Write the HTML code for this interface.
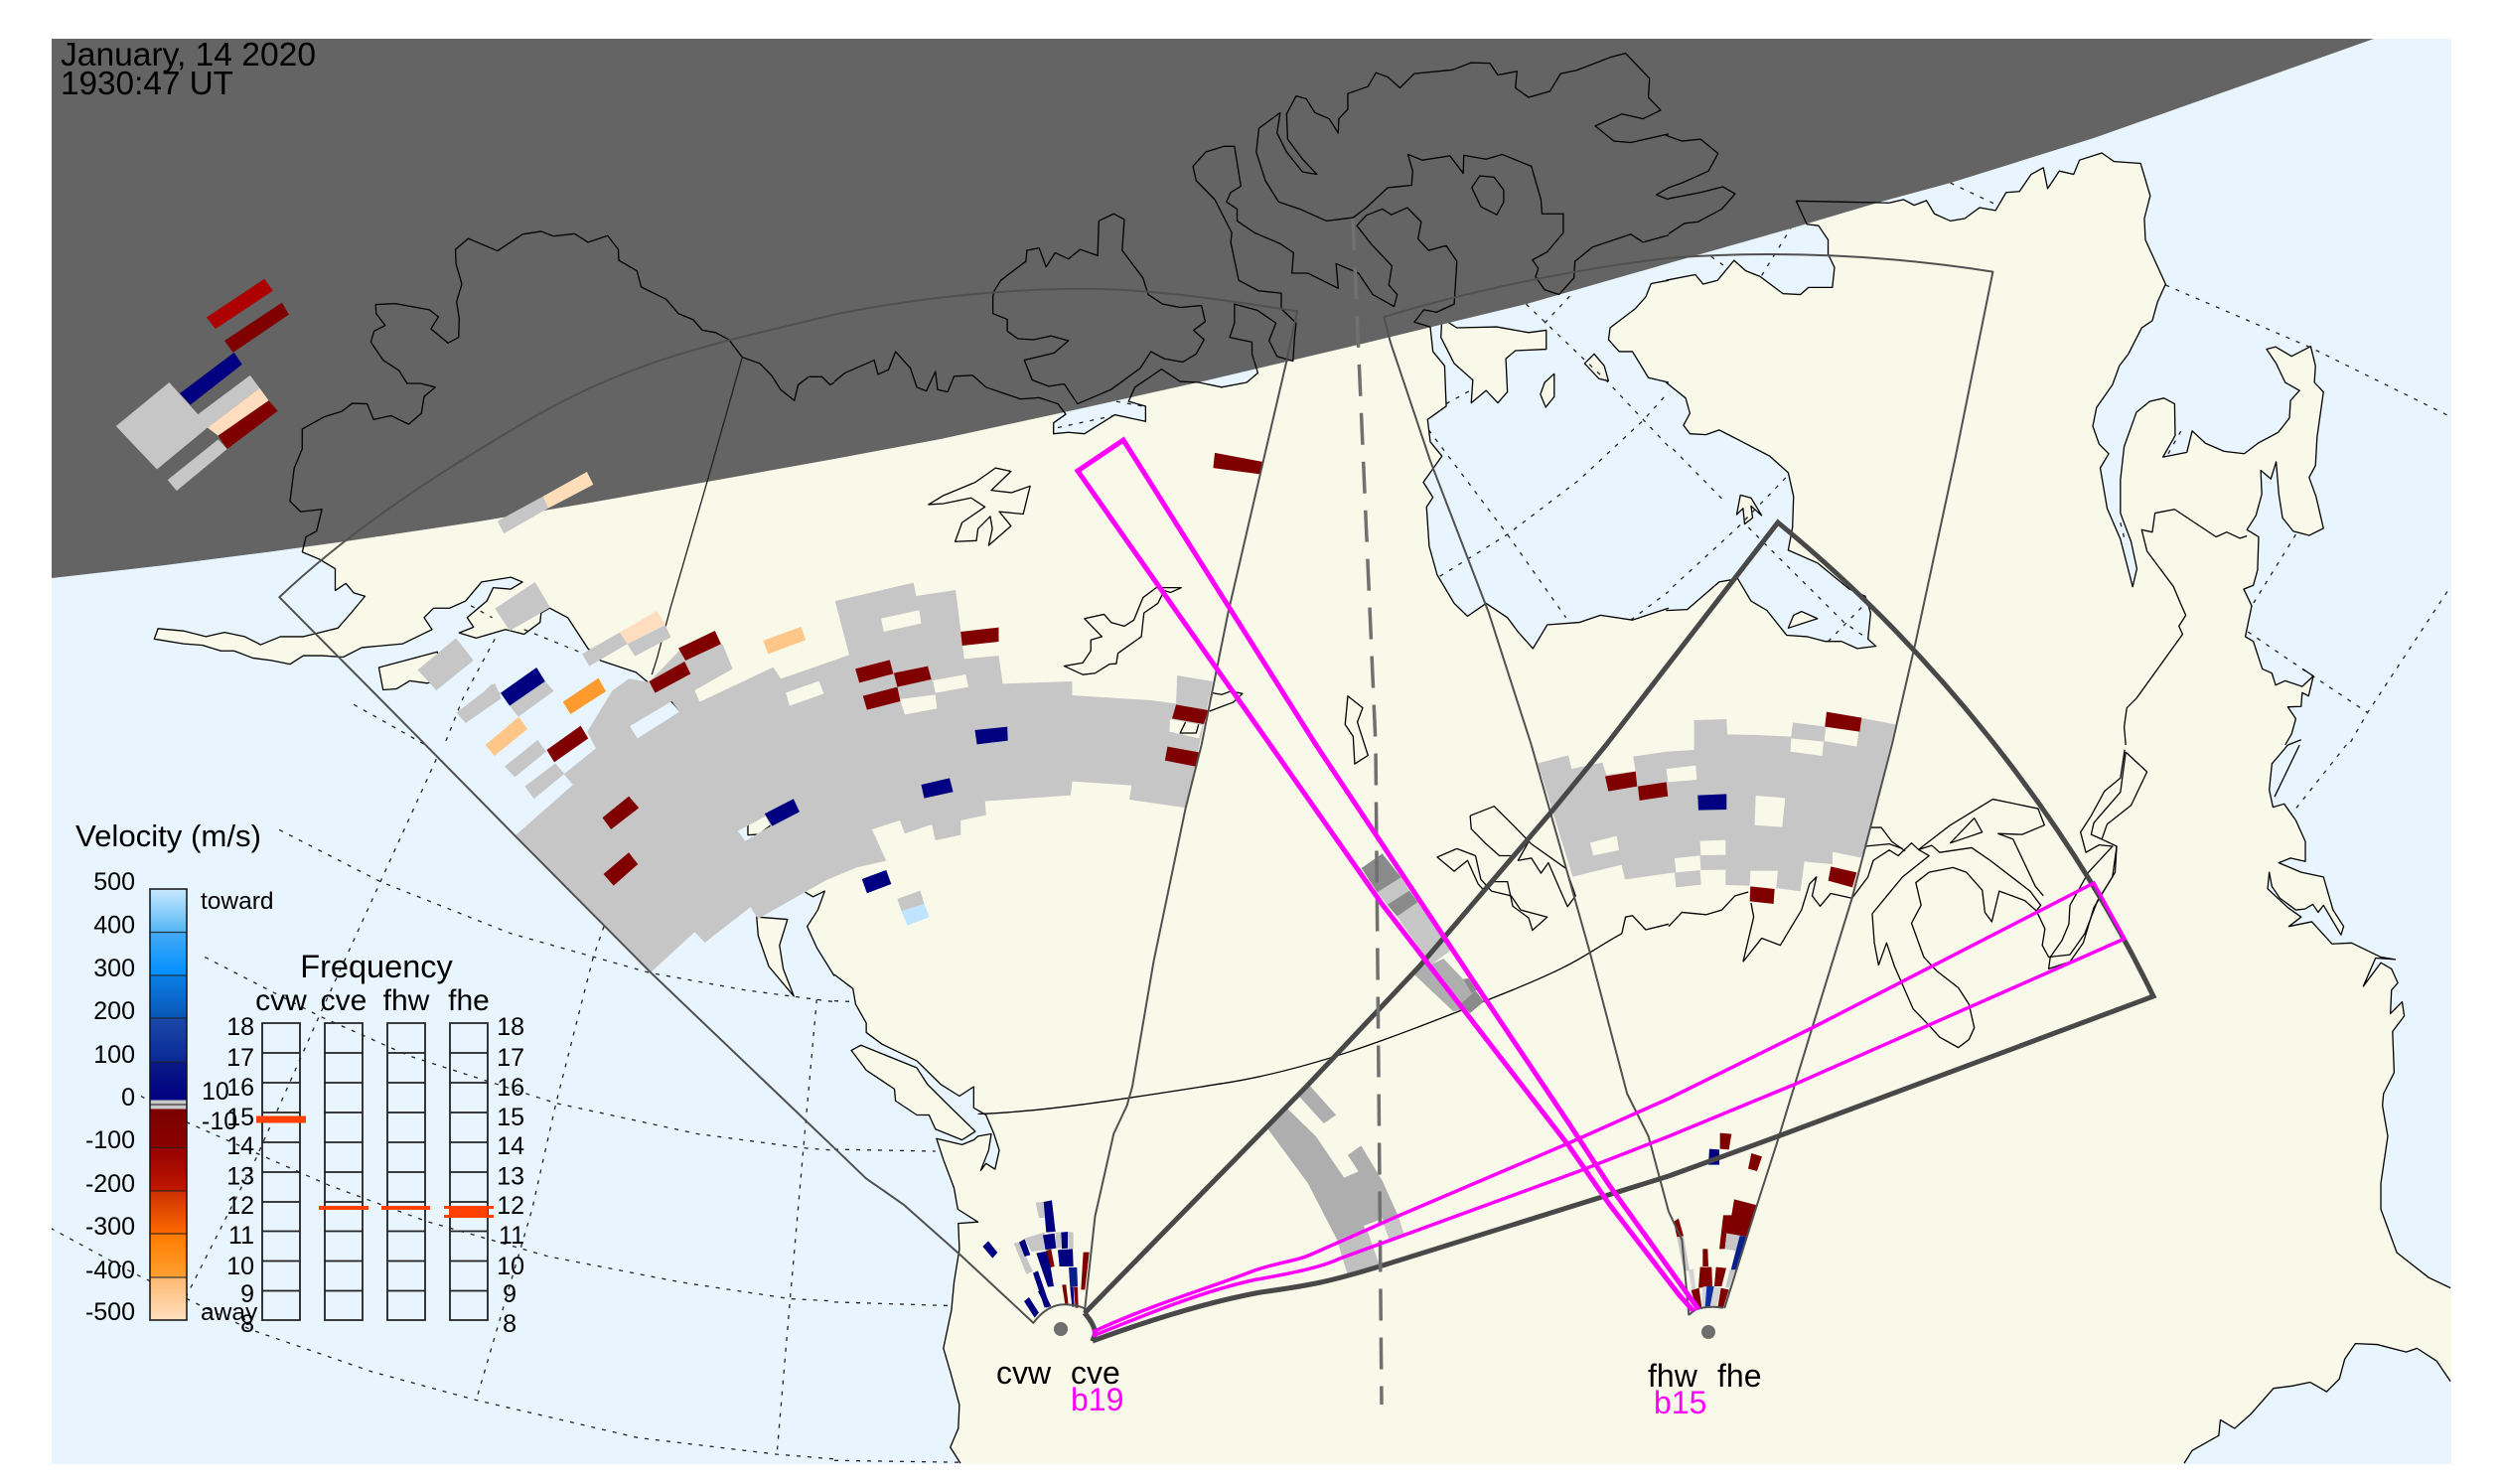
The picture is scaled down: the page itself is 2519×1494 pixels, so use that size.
<!DOCTYPE html>
<html><head><meta charset="utf-8"><title>SuperDARN velocity map</title>
<style>
html,body{margin:0;padding:0;background:#fff}
svg{display:block}
svg *{vector-effect:non-scaling-stroke}
.o{fill:#e8f5ff;stroke:none}
.la{fill:#f9f9ea;stroke:#000;stroke-width:1.3;stroke-linejoin:round}
.c{fill:none;stroke:#000;stroke-width:1.3;stroke-linejoin:round}
.gr{fill:none;stroke:#222;stroke-width:1.3;stroke-dasharray:4 7}
.g{fill:#c6c6c6}.r{fill:#800000}.n{fill:#000080}.m{fill:#aeaeae}.d{fill:#8a8a8a}
.th{fill:none;stroke:#505050;stroke-width:2;stroke-linejoin:round}
.tk{fill:none;stroke:#484848;stroke-width:5;stroke-linejoin:miter}
.mg{fill:none;stroke:#ff00ff;stroke-width:3.5;stroke-linejoin:miter}
text{font-family:"Liberation Sans",sans-serif;fill:#000}
.f25{font-size:25px}
.e{text-anchor:end}
.mid{text-anchor:middle}
</style></head><body>
<svg xmlns="http://www.w3.org/2000/svg" width="2519" height="1494" viewBox="0 0 2519 1494">
<defs>
<linearGradient id="cb" gradientUnits="userSpaceOnUse" x1="0" y1="895" x2="0" y2="1329">
<stop offset="0" stop-color="#c8e9ff"/><stop offset=".099" stop-color="#55b5f5"/><stop offset=".1" stop-color="#45aaf5"/><stop offset=".199" stop-color="#0090ff"/><stop offset=".2" stop-color="#0a80e5"/><stop offset=".3" stop-color="#0a55b5"/><stop offset=".301" stop-color="#1a48a8"/><stop offset=".4" stop-color="#0a2a95"/><stop offset=".401" stop-color="#0a1a85"/><stop offset=".49" stop-color="#000080"/><stop offset=".49" stop-color="#c8c8c8"/><stop offset=".51" stop-color="#c8c8c8"/><stop offset=".51" stop-color="#7a0000"/><stop offset=".6" stop-color="#8a0000"/><stop offset=".601" stop-color="#950000"/><stop offset=".7" stop-color="#c01800"/><stop offset=".701" stop-color="#cc3000"/><stop offset=".8" stop-color="#ff6a00"/><stop offset=".801" stop-color="#ff7a00"/><stop offset=".899" stop-color="#ffa030"/><stop offset=".9" stop-color="#ffb870"/><stop offset="1" stop-color="#ffe0bf"/>
</linearGradient>
</defs>
<rect width="2519" height="1494" fill="#fff"/>
<rect x="52" y="39" width="2416" height="1442" fill="#f9f9ea"/>

<!-- oceans -->
<g transform="scale(.5357 .4783)">
<polygon class="o" points="90,1100 568,1100 568,1162 600,1177 630,1197 630,1243 650,1228 665,1248 686,1255 660,1290 635,1322 570,1340 527,1340 490,1357 460,1340 422,1331 387,1340 345,1328 297,1323 290,1345 345,1355 380,1358 415,1370 440,1370 475,1385 510,1390 545,1398 570,1380 605,1380 645,1383 680,1363 757,1355 812,1325 797,1300 815,1280 845,1280 875,1265 905,1225 960,1215 982,1225 960,1240 927,1237 915,1265 878,1300 890,1320 863,1332 895,1343 950,1325 985,1335 1015,1310 1017,1290 1033,1280 1067,1300 1105,1365 1128,1390 1195,1415 1265,1480 1280,1500 1310,1490 1310,1580 90,1580"/>
</g>
<polygon class="o" points="48,740 702,740 796,880 809,897 817,903 829,899 813,933 827,958 840,981 859,995 861,1011 872,1030 872,1039 888,1051 923,1068 947,1092 966,1103 980,1094 980,1115 993,1122 1001,1141 1006,1158 1002,1177 993,1171 987,1178 995,1158 998,1141 985,1144 980,1148 969,1152 943,1146 950,1168 961,1196 964,1217 985,1230 965,1232 966,1258 961,1291 958,1319 950,1357 957,1381 966,1414 965,1438 957,1457 967,1473 970,1490 48,1490"/>
<g transform="translate(840 0) scale(.5357 .4783)">
<polygon class="o" points="1120,688 1125,740 1147,770 1150,855 1115,883 1120,930 1142,960 1107,1015 1125,1047 1113,1067 1118,1150 1133,1210 1165,1270 1190,1297 1225,1270 1265,1300 1285,1330 1313,1365 1340,1315 1400,1310 1440,1295 1500,1305 1575,1280 1575,810 1530,795 1500,740 1475,740 1455,715 1458,690 1505,650 1525,625 1535,597 1575,590 1575,500 1120,500"/>
<polygon class="o" points="435,850 412,890 412,913 440,910 470,913 527,873 585,887 585,855 553,845 565,815 500,820"/>
<polygon class="o" points="615,777 650,803 685,805 728,815 775,805 796,785 790,740 700,770"/>
<polygon class="la" points="1142,670 1170,690 1245,688 1305,700 1338,695 1338,735 1280,738 1262,755 1265,825 1247,848 1225,822 1197,848 1200,800 1165,765 1140,710"/>
<polygon class="la" points="1410,765 1428,745 1447,770 1455,802 1437,797"/>
<polygon class="la" points="1327,830 1335,805 1353,787 1353,835 1337,857"/>
</g>
<g transform="translate(1680 0) scale(.5351 .4783)">
<polygon class="o" points="-5,590 50,578 65,598 92,590 123,548 145,570 172,582 215,618 248,620 263,605 308,605 312,563 300,535 300,505 282,475 260,472 240,423 240,380 -5,380"/>
<polygon class="o" points="-5,805 32,838 40,870 28,895 40,913 70,915 95,905 130,925 190,960 225,995 235,1045 233,1110 225,1158 280,1185 340,1240 370,1255 380,1290 375,1345 390,1360 355,1365 325,1350 295,1350 260,1340 222,1337 185,1285 155,1265 130,1218 95,1225 35,1283 -5,1285"/>
<polygon class="o" points="240,423 415,427 442,420 462,432 485,422 500,450 530,465 557,460 585,437 615,443 635,405 660,403 682,367 705,353 713,397 735,360 762,367 773,337 815,322 838,340 888,344 906,412 895,460 897,505 935,598 920,635 910,675 890,690 865,745 848,770 835,810 805,858 798,897 810,935 828,955 812,985 825,1070 850,1135 873,1235 881,1197 870,1140 850,1080 850,1010 857,940 880,868 905,845 932,838 952,850 953,917 930,962 975,952 985,907 1010,933 1045,950 1083,955 1110,932 1147,910 1168,880 1170,843 1187,822 1160,805 1143,765 1125,735 1142,730 1172,750 1208,729 1217,770 1215,805 1232,825 1220,920 1217,980 1205,1005 1218,1045 1232,1112 1205,1127 1175,1118 1155,1090 1148,1040 1143,972 1133,1008 1114,990 1116,1040 1105,1085 1088,1115 1110,1130 1108,1200 1100,1232 1082,1240 1097,1275 1085,1340 1100,1350 1117,1408 1135,1417 1142,1442 1160,1433 1192,1445 1210,1422 1204,1465 1192,1458 1190,1487 1165,1488 1180,1513 1172,1545 1165,1580 1500,1580 1500,60 240,60"/>
<polygon class="la" points="225,1322 235,1295 250,1287 280,1302"/>
<polygon class="la" points="128,1083 135,1042 155,1048 175,1085 155,1065 158,1090 143,1103 140,1070"/>
</g>
<g transform="translate(1680 750) scale(.5351 .4745)">
<polygon class="o" points="1165,-5 1135,40 1130,95 1137,132 1158,125 1180,160 1198,205 1198,247 1170,240 1148,250 1190,270 1232,280 1250,350 1270,385 1265,403 1232,340 1222,355 1212,338 1197,348 1180,350 1150,325 1135,300 1130,270 1127,305 1165,345 1190,365 1167,385 1210,375 1248,422 1285,420 1340,450 1367,455 1330,452 1307,512 1340,462 1360,475 1372,505 1360,520 1358,570 1380,545 1384,575 1362,608 1365,695 1345,740 1343,765 1353,830 1340,930 1340,985 1370,1077 1430,1130 1500,1165 1500,-5"/>
<polygon class="o" points="970,1524 985,1497 1035,1465 1038,1432 1065,1450 1095,1420 1138,1365 1173,1360 1207,1352 1238,1372 1262,1345 1272,1303 1292,1270 1333,1272 1388,1288 1408,1280 1445,1307 1471,1350 1500,1370 1500,1570 960,1570"/>
</g>

<!-- islands -->
<g transform="scale(.5357 .4783)">
<polygon class="la" points="712,1405 822,1372 830,1430 803,1438 770,1433 745,1450 720,1452"/>
</g>
<g transform="translate(0 750) scale(.5357 .4745)">
<polygon class="la" points="1422,365 1480,370 1465,425 1472,475 1492,533 1445,470 1425,405"/>
</g>
<g transform="translate(840 750) scale(.5357 .4745)">
<polygon class="la" points="32,648 50,637 155,685 175,720 215,765 265,820 240,838 190,815 178,785 155,785 115,755 113,730 60,690"/>
</g>
<g transform="translate(480 580) scale(.5102 .3333)">
<polygon class="la" points="535,745 535,782 557,780 582,750 570,720"/>
</g>

<!-- grid -->
<g transform="translate(0 750) scale(.5357 .4745)">
<polyline class="gr" points="525,180 715,290 960,400 1220,483 1400,520 1568,545"/>
<polyline class="gr" points="385,450 600,575 770,660 1045,760 1310,825 1510,855 1568,860"/>
<polyline class="gr" points="350,800 620,935 800,1010 1030,1085 1280,1140 1485,1175 1568,1180"/>
<polyline class="gr" points="95,1025 250,1120 470,1240 700,1330 895,1390 1200,1470 1460,1505 1568,1515"/>
<polyline class="gr" points="820,30 715,290 600,575 480,880 350,1170"/>
<polyline class="gr" points="1135,385 1115,450 1045,760 1000,985 895,1390"/>
<polyline class="gr" points="1535,540 1510,855 1485,1175 1460,1505"/>
<polyline class="gr" points="265,745 350,800"/>
</g>
<g transform="scale(.5357 .4783)">
<polyline class="gr" points="665,1483 800,1568"/>
<polyline class="gr" points="930,1345 870,1470 835,1568"/>
<polyline class="gr" points="985,1325 1095,1375"/>
<polyline class="gr" points="885,1275 925,1300"/>
</g>
<g transform="translate(840 750) scale(.5357 .4745)">
<polyline class="gr" points="0,543 40,545"/>
<polyline class="gr" points="0,858 190,862"/>
<polyline class="gr" points="0,1182 225,1190"/>
<polyline class="gr" points="0,1518 235,1522"/>
</g>
<g transform="translate(840 0) scale(.5357 .4783)">
<polyline class="gr" points="1138,1213 1265,1125 1400,1010 1520,885 1568,825"/>
<polyline class="gr" points="1117,905 1265,1125 1375,1300"/>
<polyline class="gr" points="1300,640 1450,800 1568,940"/>
<polyline class="gr" points="1150,850 1195,822"/>
<polyline class="gr" points="1335,680 1385,620"/>
<polyline class="gr" points="1497,1305 1568,1245"/>
<polyline class="gr" points="420,900 525,875"/>
<polyline class="gr" points="530,845 580,855"/>
</g>
<g transform="translate(1680 0) scale(.5351 .4783)">
<polyline class="gr" points="8,945 105,1055"/>
<polyline class="gr" points="150,1110 330,1310 375,1345"/>
<polyline class="gr" points="8,1235 130,1110 225,1000"/>
<polyline class="gr" points="300,1350 375,1265"/>
<polyline class="gr" points="80,540 105,560"/>
<polyline class="gr" points="175,580 230,480"/>
<polyline class="gr" points="530,385 615,430"/>
<polyline class="gr" points="935,600 1205,730 1471,877"/>
<polyline class="gr" points="940,955 965,905"/>
<polyline class="gr" points="850,1100 860,1145"/>
<polyline class="gr" points="1180,1125 1100,1270"/>
<polyline class="gr" points="1090,1330 1195,1410 1315,1500"/>
<polyline class="gr" points="1465,1245 1315,1500 1280,1568"/>
</g>
<g transform="translate(1680 750) scale(.5351 .4745)">
<polyline class="gr" points="1275,0 1180,135"/>
</g>

<!-- night -->
<polygon fill="#646464" points="52,39 2390,39 2272,81 2108,139 1964,184 1894,203 1803,230 1680,265 1537,306 1376,345 1215,383 1076,414 947,442 840,462 712,485 589,507 482,525 348,545 268,556 166,569 52,582"/>

<!-- coast strokes -->
<g transform="scale(.5357 .4783)">
<polyline class="c" points="568,1162 575,1130 595,1118 605,1072 565,1077 545,1055 553,985 568,945 568,903 610,877 642,866 662,849 690,850 702,883 735,875 768,893 792,870 797,835 818,815 790,807 765,807 750,780 720,758 697,720 703,697 724,685 707,660 706,641 743,639 807,652 824,667 810,692 842,722 862,710 863,670 858,635 868,598 857,555 856,525 880,502 935,528 982,493 1017,487 1040,497 1080,492 1105,510 1142,496 1162,525 1163,548 1197,570 1205,604 1252,630 1275,660 1303,673 1320,695 1345,700 1370,715 1395,752 1428,765 1450,790 1467,820 1493,843 1500,810 1520,793 1545,793 1560,810 1568,805"/>
<polyline class="c" points="568,1162 600,1177 630,1197 630,1243 650,1228 665,1248 686,1255 660,1290 635,1322 570,1340 527,1340 490,1357 460,1340 422,1331 387,1340 345,1328 297,1323 290,1345 345,1355 380,1358 415,1370 440,1370 475,1385 510,1390 545,1398 570,1380 605,1380 645,1383 680,1363 757,1355 812,1325 797,1300 815,1280 845,1280 875,1265 905,1225 960,1215 982,1225 960,1240 927,1237 915,1265 878,1300 890,1320 863,1332 895,1343 950,1325 985,1335 1015,1310 1017,1290 1033,1280 1067,1300 1105,1365 1128,1390 1195,1415 1265,1480 1280,1500 1310,1490 1300,1450"/>
<polyline class="c" points="1395,752 1330,1010 1260,1280 1235,1385 1225,1420" style="stroke:#222"/>
</g>
<g transform="translate(0 750) scale(.5357 .4745)">
<polyline class="c" points="1510,310 1528,322 1550,310 1537,350 1517,385 1535,430 1568,490"/>
</g>
<g transform="translate(840 750) scale(.5357 .4745)">
<polyline class="c" points="0,487 35,517 40,550 60,590 60,610 90,635 155,670 200,720 235,745 262,725 262,770 285,785 300,825 310,860 302,900 285,888 275,903 290,860 295,825 270,830 262,838 240,848 192,835 205,880 225,940 232,985 270,1012 233,1015 235,1070 225,1140 220,1200 205,1280 218,1330 235,1400 233,1450 218,1490 237,1524"/>
<path class="c" d="M270,783C400,778 560,748 730,718S1050,620 1230,540 1400,450 1480,400L1487,365 1500,362 1525,392 1550,385 1568,380"/>
<polyline class="c" points="1195,150 1240,130 1280,175 1310,210 1375,262 1393,320 1378,343 1365,310 1342,250 1328,272 1310,240 1285,245 1305,205 1275,235 1250,235 1225,210 1197,178 1195,150"/>
<polygon class="c" points="1133,238 1170,220 1205,235 1215,285 1235,310 1272,320 1290,350 1340,365 1312,393 1305,367 1275,342 1265,290 1240,290 1222,310 1210,295 1190,245 1165,268"/>
</g>
<g transform="translate(840 0) scale(.5357 .4783)">
<polyline class="c" points="0,803 20,785 75,758 82,788 102,778 115,740 143,775 155,815 173,823 190,782 194,820 213,825 225,792 260,790 285,815 350,840 385,837 420,850 435,872 412,890 412,913 440,910 470,913 527,873 585,887 585,855 553,845 565,815 615,777 650,803 685,805 728,815 775,805 796,785 785,745 785,720 743,710 752,680 752,640 795,653 830,680 817,717 832,750 862,760 865,710 868,680 840,650 840,617 797,612 760,590 745,510 747,490 715,420 680,380 674,350 698,320 732,308 752,308 764,392 745,405 737,425 757,440 757,465 790,490 838,513 863,532 860,575 890,575 947,607 943,555 985,575 1012,620 1052,645 1058,620 1042,600 1048,560 1010,515 982,475 1000,453 1030,440 1047,452 1077,437 1103,467 1097,503 1117,527 1150,517 1170,550 1165,640 1132,657 1108,652 1090,678 1120,688 1125,740 1147,770 1150,855 1115,883 1120,930 1142,960 1107,1015 1125,1047 1113,1067 1118,1150 1133,1210 1165,1270 1190,1297 1225,1270 1265,1300 1285,1330 1313,1365 1340,1315 1400,1310 1440,1295 1500,1305 1568,1280"/>
<polyline class="c" points="1568,805 1530,795 1500,740 1475,740 1455,715 1458,690 1505,650 1525,625 1535,597 1568,590"/>
<!-- arctic islands -->
<polyline class="c" points="300,613 313,590 360,550 362,527 385,522 398,562 415,532 440,545 462,525 495,538 497,465 525,450 545,462 541,527 580,585 590,620 617,640 650,647 690,643 697,677 675,695 695,715 680,745 655,762 620,755 595,740 575,775 520,820 457,850 432,808 403,813 372,800 357,758 413,743 440,717 407,707 375,715 345,713 325,697 325,672 298,660 298,625 300,613"/>
<polyline class="c" points="838,237 798,270 793,320 810,380 835,425 875,440 925,465 975,458 1000,437 1040,395 1085,390 1087,360 1078,325 1105,337 1157,328 1182,365 1183,327 1225,335 1255,325 1310,350 1328,420 1330,450 1370,450 1370,490 1340,530 1312,547 1323,565 1318,583 1335,610 1362,620 1390,585 1392,550 1425,520 1497,493 1520,510 1568,495"/>
<polyline class="c" points="838,237 832,280 850,320 880,362 907,367 880,335 852,293 850,240 868,202 887,208 903,237 930,250 947,280 948,250 965,230 965,197 1003,182 1018,153 1040,162 1063,185 1090,155 1162,147 1197,132 1232,133 1247,158 1283,150 1280,185 1305,205 1345,192 1365,155 1395,148 1460,120 1487,112 1532,165 1530,205 1553,232 1520,250 1480,240 1430,265 1465,297 1497,300 1568,282"/>
<polygon class="c" points="1198,395 1213,370 1240,373 1258,400 1258,425 1245,452 1215,435"/>
<polyline class="c" points="1568,395 1545,410 1568,420"/>
<polygon class="c" points="177,1062 205,1043 265,1015 303,985 332,992 295,1032 333,1037 368,1023 355,1082 310,1077 332,1107 290,1148 297,1113 293,1087 270,1113 267,1138 227,1140 240,1100 283,1067 257,1048 205,1060"/>
<polygon class="c" points="432,1402 467,1395 482,1370 482,1347 503,1340 470,1302 507,1293 520,1310 545,1318 563,1305 580,1258 605,1237 652,1237 632,1247 620,1243 608,1270 582,1290 577,1340 533,1375 530,1397 517,1398 490,1417 467,1420"/>
<polyline class="c" points="708,1458 728,1462 745,1455 767,1460 750,1478 705,1497"/>
<polyline class="c" points="660,1520 650,1543 680,1543 685,1523"/>
<polygon class="c" points="965,1465 993,1490 983,1520 1003,1590 978,1608 975,1550 960,1525"/>
</g>
<g transform="translate(1680 0) scale(.5351 .4783)">
<polyline class="c" points="-5,285 25,297 60,293 93,323 75,360 25,385 0,395"/>
<polyline class="c" points="0,418 60,405 102,393 125,408 100,440 55,467 30,470 0,492"/>
<polyline class="c" points="-5,590 50,578 65,598 92,590 123,548 145,570 172,582 215,618 248,620 263,605 308,605 312,563 300,535 300,505 282,475 260,472 240,423 415,427 442,420 462,432 485,422 500,450 530,465 557,460 585,437 615,443 635,405 660,403 682,367 705,353 713,397 735,360 762,367 773,337 815,322 838,340 888,344 906,412 895,460 897,505 935,598 920,635 910,675 890,690 865,745 848,770 835,810 805,858 798,897 810,935 828,955 812,985 825,1070 850,1135 873,1235 881,1197 870,1140 850,1080 850,1010 857,940 880,868 905,845 932,838 952,850 953,917 930,962 975,952 985,907 1010,933 1045,950 1083,955 1110,932 1147,910 1168,880 1170,843 1187,822 1160,805 1143,765 1125,735 1142,730 1172,750 1208,729 1217,770 1215,805 1232,825 1220,920 1217,980 1205,1005 1218,1045 1232,1112 1205,1127 1175,1118 1155,1090 1148,1040 1143,972 1133,1008 1114,990 1116,1040 1105,1085 1088,1115 1110,1130 1108,1200 1100,1232 1082,1240 1097,1275 1085,1340 1100,1350 1117,1408 1135,1417 1142,1442 1160,1433 1192,1445 1213,1423 1193,1408"/>
<polyline class="c" points="1213,1423 1204,1465 1192,1458 1190,1487 1165,1488 1180,1513 1172,1545 1160,1568"/>
<polyline class="c" points="1190,1557 1165,1568"/>
<polyline class="c" points="-5,805 32,838 40,870 28,895 40,913 70,915 95,905 130,925 190,960 225,995 235,1045 233,1110 225,1158 280,1185 340,1240 370,1255 380,1290 375,1345 390,1360 355,1365 325,1350 295,1350 260,1340 222,1337 185,1285 155,1265 130,1218 95,1225 35,1283 -5,1285"/>
<polyline class="c" points="1088,1128 1075,1133 1050,1120 1030,1130 952,1072 915,1080 910,1120 890,1115 900,1160 930,1205 950,1235 965,1275 973,1295 960,1318 967,1335 880,1470 862,1490 857,1530 860,1568"/>
</g>
<g transform="translate(1680 750) scale(.5351 .4745)">
<polyline class="c" points="1165,0 1135,40 1130,95 1137,132 1158,125 1180,160 1198,205 1198,247 1170,240 1148,250 1190,270 1232,280 1250,350 1270,385 1265,403 1232,340 1222,355 1212,338 1197,348 1180,350 1150,325 1135,300 1130,270 1127,305 1165,345 1190,365 1167,385 1210,375 1248,422 1285,420 1340,450 1367,455 1330,452 1307,512 1340,462 1360,475 1372,505 1360,520 1358,570 1380,545 1384,575 1362,608 1365,695 1345,740 1343,765 1353,830 1340,930 1340,985 1370,1077 1430,1130 1471,1152"/>
<polyline class="c" points="1140,110 1187,0"/>
<polyline class="c" points="970,1524 985,1497 1035,1465 1038,1432 1065,1450 1095,1420 1138,1365 1173,1360 1207,1352 1238,1372 1262,1345 1272,1303 1292,1270 1333,1272 1388,1288 1408,1280 1445,1307 1471,1350"/>
<!-- great lakes -->
<polyline class="c" points="0,385 25,355 70,360 100,350 125,320 150,312"/>
<polyline class="c" points="140,460 175,410 210,425 250,350 265,295 278,280 270,320 285,342 305,315 345,325 375,280 385,245 415,223 432,235 457,208 470,222 490,235 440,280 383,358 387,420 395,467 410,420 425,470 460,560 490,595 510,620 545,642 565,625 575,600 565,550 545,515 505,480 480,450 457,378 475,340 465,292 490,270 535,260 560,270 590,308 595,355 608,375 622,310 670,330 692,352 708,390 703,425 715,450 755,445 783,400 807,330 835,280 843,215 815,200"/>
<polyline class="c" points="140,460 160,365 155,335"/>
<polyline class="c" points="380,175 400,175 420,205 445,225"/>
<polyline class="c" points="370,215 415,210 440,220"/>
<polyline class="c" points="470,222 495,213 510,228 570,218 605,245 680,310 700,340 692,352"/>
<polyline class="c" points="470,222 530,170 610,115 695,135 707,170 665,190 620,188 648,200 690,300 705,320"/>
<polygon class="c" points="530,208 575,155 590,185"/>
<polyline class="c" points="858,10 850,70 820,98 795,150 775,185 785,228 810,212 835,215 790,270 755,340 753,380 740,415 718,450 715,475 755,460 780,420 800,345 840,270 843,215"/>
<polyline class="c" points="860,15 900,57 870,128 825,168 815,200 795,190 800,165 850,100 860,15"/>
</g>

<!-- crop 2: red cell -->
<g transform="translate(840 0) scale(.5357 .4783)"><polygon class="r" points="715,953 805,972 800,998 712,985"/></g>

<!-- top-left cells -->
<g transform="scale(.5357 .4783)">
<polygon fill="#ad0000" points="388,668 497,587 513,612 405,692"/>
<polygon class="r" points="422,717 530,637 543,662 438,742"/>
<polygon class="n" points="338,828 440,742 455,767 358,852"/>
<polygon class="g" points="218,897 318,805 372,872 470,790 488,817 390,900 295,988"/>
<polygon fill="#ffddbe" points="390,900 488,817 505,843 410,917"/>
<polygon class="r" points="410,917 505,843 522,865 427,945"/>
<polygon class="g" points="315,1010 410,925 427,945 332,1033"/>
<polygon fill="#ffddb8" points="1020,1045 1103,993 1115,1020 1030,1070"/>
<polygon class="g" points="935,1097 1020,1045 1030,1070 947,1123"/>
<polygon class="g" points="785,1410 857,1343 890,1390 820,1453"/>
<polygon class="g" points="858,1500 930,1438 942,1470 875,1522"/>
</g>

<!-- main cv band -->
<g transform="translate(480 580) scale(.5102 .3333)">
<path class="g" fill-rule="evenodd" d="M75,785L190,630 172,598 235,520 218,470 268,345 300,310 340,320 400,225 485,205 505,280 430,345 440,380 585,275 600,310 735,238 707,75 862,20 867,60 945,42 962,250 1030,240 1038,325 1175,318 1175,360 1330,375 1380,385 1382,300 1452,318 1400,700 1288,675 1292,632 1175,620 1172,662 1003,680 1005,722 955,738 955,782 905,798 898,750 845,778 835,738 780,765 808,860 750,880 690,918 555,1035 540,1000 450,1107 430,1075 345,1195Z
M798,128L873,103 877,143 803,168Z
M610,352L675,317 685,355 617,392Z
M900,315L965,297 970,335 905,353Z
M835,372L905,358 908,400 845,418Z
M1368,432L1432,450 1425,490 1367,470Z
M515,770L570,725 580,755 530,800Z
M302,453L385,378 400,410 317,490Z"/>
<polygon class="r" points="398,218 470,165 482,205 412,255"/>
<polygon class="r" points="340,318 410,258 422,295 352,353"/>
<polygon class="r" points="747,280 815,253 822,295 755,322"/>
<polygon class="r" points="823,293 890,272 897,312 830,335"/>
<polygon class="r" points="762,362 830,335 836,378 770,404"/>
<polygon class="r" points="955,168 1030,155 1030,198 958,210"/>
<polygon class="r" points="1380,388 1443,405 1435,447 1372,430"/>
<polygon class="r" points="1363,515 1425,532 1418,575 1358,557"/>
<polygon class="r" points="138,525 205,452 220,490 153,562"/>
<polygon class="r" points="248,730 300,665 320,700 265,765"/>
<polygon class="r" points="250,900 300,835 318,870 270,935"/>
<polygon class="n" points="47,353 118,276 135,318 65,392"/>
<polygon class="n" points="983,465 1047,455 1048,497 987,508"/>
<polygon class="n" points="877,630 933,610 940,652 883,671"/>
<polygon class="n" points="568,718 625,673 637,712 583,755"/>
<polygon class="n" points="760,915 808,888 818,930 770,958"/>
<polygon fill="#ff9a2e" points="170,380 240,308 255,348 185,417"/>
<polygon fill="#ffc68a" points="565,195 640,153 649,193 575,235"/>
<polygon fill="#ffc68a" points="17,510 83,425 100,462 35,543"/>
<polygon fill="#ffddbe" points="282,170 355,105 372,145 297,205"/>
<polygon class="g" points="208,235 282,170 297,205 222,272"/>
<polygon class="g" points="297,205 372,147 383,185 312,242"/>
<polygon class="g" points="36,98 115,18 145,95 65,165"/>
<polygon class="g" points="0,370 30,325 47,355 0,410"/>
<polygon class="g" points="65,392 135,318 152,347 82,425"/>
<polygon class="g" points="55,575 120,495 137,530 75,607"/>
<polygon class="g" points="95,635 155,565 173,597 113,673"/>
<polygon class="g" points="830,975 875,950 883,990 838,1012"/>
<polygon fill="#bfe4ff" points="838,1012 883,990 893,1030 850,1055"/>
</g>

<!-- fh band -->
<g transform="translate(1530 700) scale(.3333 .3333)">
<path class="g" fill-rule="evenodd" d="M55,205L147,181 157,222 250,203 262,240 350,230 343,185 445,170 527,165 527,75 625,72 627,118 720,120 820,125 825,82 925,95 920,138 1018,155 1030,68 1135,88 1045,460 1030,490 945,473 945,510 860,502 848,592 775,582 780,530 697,530 695,575 622,573 622,527 545,528 548,572 472,580 468,535 318,556 308,512 160,548Z
M213,445L293,425 300,468 222,484Z
M443,222L532,212 535,255 448,262Z
M545,440L622,437 622,482 547,483Z
M468,492L545,484 547,528 472,535Z
M713,303L802,310 793,398 710,392Z
M820,130L918,140 914,183 818,170Z"/>
<polygon class="r" points="258,245 350,230 355,275 268,290"/>
<polygon class="r" points="357,275 443,262 448,305 362,318"/>
<polygon class="r" points="927,50 1033,68 1027,110 922,95"/>
<polygon class="r" points="940,517 1018,535 1005,580 932,560"/>
<polygon class="r" points="697,577 770,585 767,630 695,622"/>
<polygon class="n" points="538,302 625,298 625,345 540,347"/>
</g>

<!-- cells along beams -->
<g transform="translate(840 750) scale(.5357 .4745)">
<polygon class="m" points="815,815 850,770 905,830 958,918 985,905 965,870 990,850 1030,925 1060,1000 1072,1043 1045,1055 1030,1005 995,1020 1025,1105 965,1125 945,1050 890,930"/>
<polygon fill="#c0c0c0" points="945,1050 1000,1025 1025,1105 965,1125"/>
<polygon class="g" points="1030,1010 1060,1000 1072,1043 1045,1055"/>
<polygon class="m" points="873,745 893,722 943,785 920,803"/>
</g>
<g transform="translate(1340 840) scale(.3333)">
<polygon class="d" points="92,102 155,58 212,130 140,175"/>
<polygon class="g" points="140,175 212,130 237,170 170,212"/>
<polygon class="d" points="170,212 237,170 262,205 200,248"/>
<polygon class="g" points="200,248 262,205 362,350 302,395"/>
<polygon class="m" points="248,420 275,378 300,395 340,375 440,480 390,530 370,535"/>
<polygon class="d" points="392,512 437,472 462,505 420,540"/>
<polygon class="d" points="400,437 415,435 440,470 425,480"/>
</g>

<!-- cv near cells -->
<g transform="translate(960 1150) scale(.3333)">
<polygon class="g" points="248,182 272,180 275,228 258,228"/>
<polygon class="g" points="182,305 198,302 240,390 220,398"/>
<polygon class="g" points="215,290 275,272 278,325 235,330"/>
<polygon class="g" points="308,272 325,272 325,320 310,320"/>
<polygon class="g" points="345,270 362,272 362,322 347,322"/>
<polygon class="n" points="88,315 105,298 133,333 118,350"/>
<polygon class="n" points="272,180 297,175 308,270 280,272"/>
<polygon class="n" points="270,280 305,275 310,320 278,325"/>
<polygon class="n" points="198,302 215,292 232,340 215,345"/>
<polygon class="n" points="250,335 285,328 303,435 285,437"/>
<polygon class="n" points="240,395 255,388 290,490 275,500"/>
<polygon class="n" points="255,450 270,445 295,495 280,500"/>
<polygon class="n" points="213,480 228,468 258,515 245,530"/>
<polygon class="n" points="325,272 345,270 345,320 327,322"/>
<polygon class="n" points="315,325 360,322 362,375 320,375"/>
<polygon fill="#0a1f8f" points="348,378 373,378 375,435 352,437"/>
<polygon class="n" points="352,437 362,437 365,497 358,497"/>
<polygon class="r" points="280,327 295,323 305,375 293,378"/>
<polygon class="r" points="328,430 340,430 347,490 337,490"/>
<polygon class="r" points="363,437 375,437 377,500 368,500"/>
<polygon class="r" points="392,332 410,332 397,445 385,445"/>
</g>

<!-- fh near cells -->
<g transform="translate(1620 1100) scale(.3333)">
<polygon class="r" points="335,122 370,125 362,172 335,170"/>
<polygon class="r" points="430,183 462,193 447,237 420,230"/>
<polygon class="n" points="303,170 333,172 333,218 300,218"/>
<polygon class="r" points="345,370 370,370 378,322 447,340 433,385 415,435 355,425 350,472 333,472"/>
<polygon class="g" points="355,425 415,435 385,478 350,472"/>
<polygon fill="#0a1f8f" points="395,432 415,435 385,535 368,535"/>
<polygon class="g" points="365,535 382,535 362,590 352,588"/>
<polygon class="r" points="195,390 210,380 225,433 205,436"/>
<polygon class="g" points="205,436 225,433 243,538 225,538"/>
<polygon fill="#d4d4d4" points="240,535 255,533 262,595 250,595"/>
<polygon class="r" points="283,472 298,472 300,525 283,525"/>
<polygon class="r" points="275,527 310,527 312,585 270,590"/>
<polygon class="r" points="323,527 354,530 340,585 318,585"/>
<polygon class="r" points="248,597 272,590 280,650 265,655"/>
<polygon fill="#d4d4d4" points="282,587 295,585 290,650 280,650"/>
<polygon fill="#0b2f9f" points="295,585 317,585 305,648 290,648"/>
<polygon fill="#d4d4d4" points="317,585 338,590 325,648 307,648"/>
<polygon class="r" points="338,590 362,595 345,650 328,650"/>
</g>

<!-- thin FOVs -->
<g transform="scale(.5357 .4783)">
<path class="th" d="M800,1568L525,1257C650,1125 800,1010 1000,880S1370,717 1568,662"/>
</g>
<g transform="translate(840 0) scale(.5357 .4783)">
<path class="th" d="M0,662C150,628 300,610 450,608S750,635 870,655L850,760 800,1000 740,1290 690,1568"/>
<path class="th" d="M1310,1568L1230,1290 1120,970 1045,720 1033,667C1200,610 1400,565 1568,543"/>
</g>
<g transform="translate(1680 0) scale(.5351 .4783)">
<path class="th" d="M0,543C200,527 400,535 610,572L540,960 465,1350 420,1568"/>
</g>
<g transform="translate(0 750) scale(.5357 .4745)">
<polyline class="th" points="800,0 970,195 1225,485 1568,855"/>
</g>
<g transform="translate(840 750) scale(.5357 .4745)">
<polyline class="th" points="0,855 60,920 130,975 235,1080 375,1227"/>
<polyline class="th" points="690,0 660,135 600,460 560,725 550,765 525,825 490,1000 470,1205"/>
<polyline class="th" points="1310,0 1345,140 1380,280 1420,440 1490,740 1530,830 1568,990"/>
</g>
<g transform="translate(1680 750) scale(.5351 .4745)">
<polyline class="th" points="420,0 345,325 270,600 205,840 165,980 105,1195"/>
<polyline class="th" points="0,990 25,1050 38,1210"/>
</g>
<g transform="translate(960 1150) scale(.3333)">
<path class="th" d="M240,547Q285,485 345,490T400,515"/>
</g>
<g transform="translate(1620 1100) scale(.3333)">
<path class="th" d="M240,672L262,655Q300,643 345,650"/>
</g>

<!-- thick FOV -->
<path class="tk" d="M1092,1322L1317,1092 1429,973 1563,816 1617,750 1790,526C1940,649 2078,817 2168,1003L1790,1144 1680,1184 1392,1274C1340,1290 1320,1294 1269,1301C1220,1310 1160,1328 1100,1350"/>
<g transform="translate(840 750) scale(.5357 .4745)">
<path class="tk" d="M470,1205Q490,1230 490,1250L485,1265"/>
</g>

<!-- dashed line -->
<polyline fill="none" stroke="#707070" stroke-width="3.5" stroke-dasharray="32 17" points="1362,220 1385,750 1391,1414"/>

<!-- magenta -->
<polyline class="mg" style="stroke-width:5" points="1710,1318 1697,1300 1620,1193 1579,1130 1483,987 1325,750 1131,443 1085,474 1279,750 1392,911 1579,1153 1620,1212 1690,1303 1705,1320"/>
<path class="mg" d="M1100,1341C1160,1313 1220,1296 1263,1279C1290,1270 1305,1270 1322,1262L1408,1224 1579,1151 1680,1106 1824,1035 2108,889 2139,945 1806,1092 1680,1144 1590,1179 1349,1267C1330,1276 1300,1282 1263,1288.5C1210,1300 1150,1325 1100,1345"/>

<!-- radar dots -->
<circle cx="1068" cy="1338" r="7" fill="#6e6e6e"/>
<circle cx="1720" cy="1341" r="7" fill="#6e6e6e"/>

<!-- frame masks -->
<rect x="0" y="0" width="52" height="1494" fill="#fff"/>
<rect x="2468" y="0" width="51" height="1494" fill="#fff"/>
<rect x="0" y="0" width="2519" height="39" fill="#fff"/>
<rect x="0" y="1474" width="2519" height="20" fill="#fff"/>

<!-- title -->
<text x="61" y="66" font-size="33" textLength="257" lengthAdjust="spacingAndGlyphs">January, 14 2020</text>
<text x="61" y="95" font-size="33" textLength="174" lengthAdjust="spacingAndGlyphs">1930:47 UT</text>

<!-- velocity legend -->
<text x="76" y="852" font-size="31" textLength="187" lengthAdjust="spacingAndGlyphs">Velocity (m/s)</text>
<rect x="151" y="895" width="37" height="434" fill="url(#cb)" stroke="#111" stroke-width="1.5"/>
<g stroke="#222" stroke-width="1.2" opacity=".85">
<line x1="151" x2="188" y1="938.5" y2="938.5"/><line x1="151" x2="188" y1="982" y2="982"/><line x1="151" x2="188" y1="1025" y2="1025"/><line x1="151" x2="188" y1="1069" y2="1069"/><line x1="151" x2="188" y1="1112" y2="1112"/><line x1="151" x2="188" y1="1155.5" y2="1155.5"/><line x1="151" x2="188" y1="1199" y2="1199"/><line x1="151" x2="188" y1="1242" y2="1242"/><line x1="151" x2="188" y1="1286" y2="1286"/>
</g>
<g>
<text x="136" y="896" class="f25 e">500</text>
<text x="136" y="939.5" class="f25 e">400</text>
<text x="136" y="983" class="f25 e">300</text>
<text x="136" y="1026" class="f25 e">200</text>
<text x="136" y="1070" class="f25 e">100</text>
<text x="136" y="1113" class="f25 e">0</text>
<text x="136" y="1156" class="f25 e">-100</text>
<text x="136" y="1200" class="f25 e">-200</text>
<text x="136" y="1243" class="f25 e">-300</text>
<text x="136" y="1287" class="f25 e">-400</text>
<text x="136" y="1329" class="f25 e">-500</text>
</g>
<text x="202" y="915" font-size="24.5">toward</text>
<text x="202" y="1329" font-size="24.5">away</text>
<text x="203" y="1107" class="f25">10</text>
<text x="203" y="1137" class="f25">-10</text>

<!-- frequency legend -->
<text x="379" y="984" font-size="32.5" class="mid">Frequency</text>
<text x="283" y="1017" font-size="30" class="mid">cvw</text>
<text x="346" y="1017" font-size="30" class="mid">cve</text>
<text x="409" y="1017" font-size="30" class="mid">fhw</text>
<text x="472" y="1017" font-size="30" class="mid">fhe</text>
<g fill="none" stroke="#222" stroke-width="1.8">
<rect x="264" y="1030" width="38" height="299"/><rect x="327" y="1030" width="38" height="299"/><rect x="390" y="1030" width="38" height="299"/><rect x="453" y="1030" width="38" height="299"/>
<path d="M264,1060h38M264,1090h38M264,1120h38M264,1150h38M264,1180h38M264,1210h38M264,1239.5h38M264,1269.5h38M264,1299.5h38M327,1060h38M327,1090h38M327,1120h38M327,1150h38M327,1180h38M327,1210h38M327,1239.5h38M327,1269.5h38M327,1299.5h38M390,1060h38M390,1090h38M390,1120h38M390,1150h38M390,1180h38M390,1210h38M390,1239.5h38M390,1269.5h38M390,1299.5h38M453,1060h38M453,1090h38M453,1120h38M453,1150h38M453,1180h38M453,1210h38M453,1239.5h38M453,1269.5h38M453,1299.5h38"/>
</g>
<g fill="#ff4000">
<rect x="258" y="1123.5" width="50" height="7"/>
<rect x="321" y="1214" width="50" height="4"/>
<rect x="384" y="1214" width="49" height="4"/>
<rect x="452" y="1214" width="39" height="12"/>
<rect x="447" y="1214" width="50" height="3"/>
<rect x="447" y="1223" width="50" height="3"/>
</g>
<g font-size="25" text-anchor="end">
<text x="256" y="1042">18</text><text x="256" y="1073">17</text><text x="256" y="1103">16</text><text x="256" y="1133">15</text><text x="256" y="1162">14</text><text x="256" y="1192.5">13</text><text x="256" y="1222">12</text><text x="256" y="1252">11</text><text x="256" y="1283">10</text><text x="256" y="1311">9</text><text x="256" y="1341">8</text>
<text x="528" y="1042">18</text><text x="528" y="1073">17</text><text x="528" y="1103">16</text><text x="528" y="1133">15</text><text x="528" y="1162">14</text><text x="528" y="1192.5">13</text><text x="528" y="1222">12</text><text x="528" y="1252">11</text><text x="528" y="1283">10</text><text x="520" y="1311">9</text><text x="520" y="1341">8</text>
</g>

<!-- radar labels -->
<text x="1003" y="1393" font-size="32">cvw</text>
<text x="1078" y="1393" font-size="32">cve</text>
<text x="1078" y="1420" font-size="32" style="fill:#ff00ff">b19</text>
<text x="1659" y="1396" font-size="32">fhw</text>
<text x="1729" y="1396" font-size="32">fhe</text>
<text x="1665" y="1423" font-size="32" style="fill:#ff00ff">b15</text>
</svg>
</body></html>
